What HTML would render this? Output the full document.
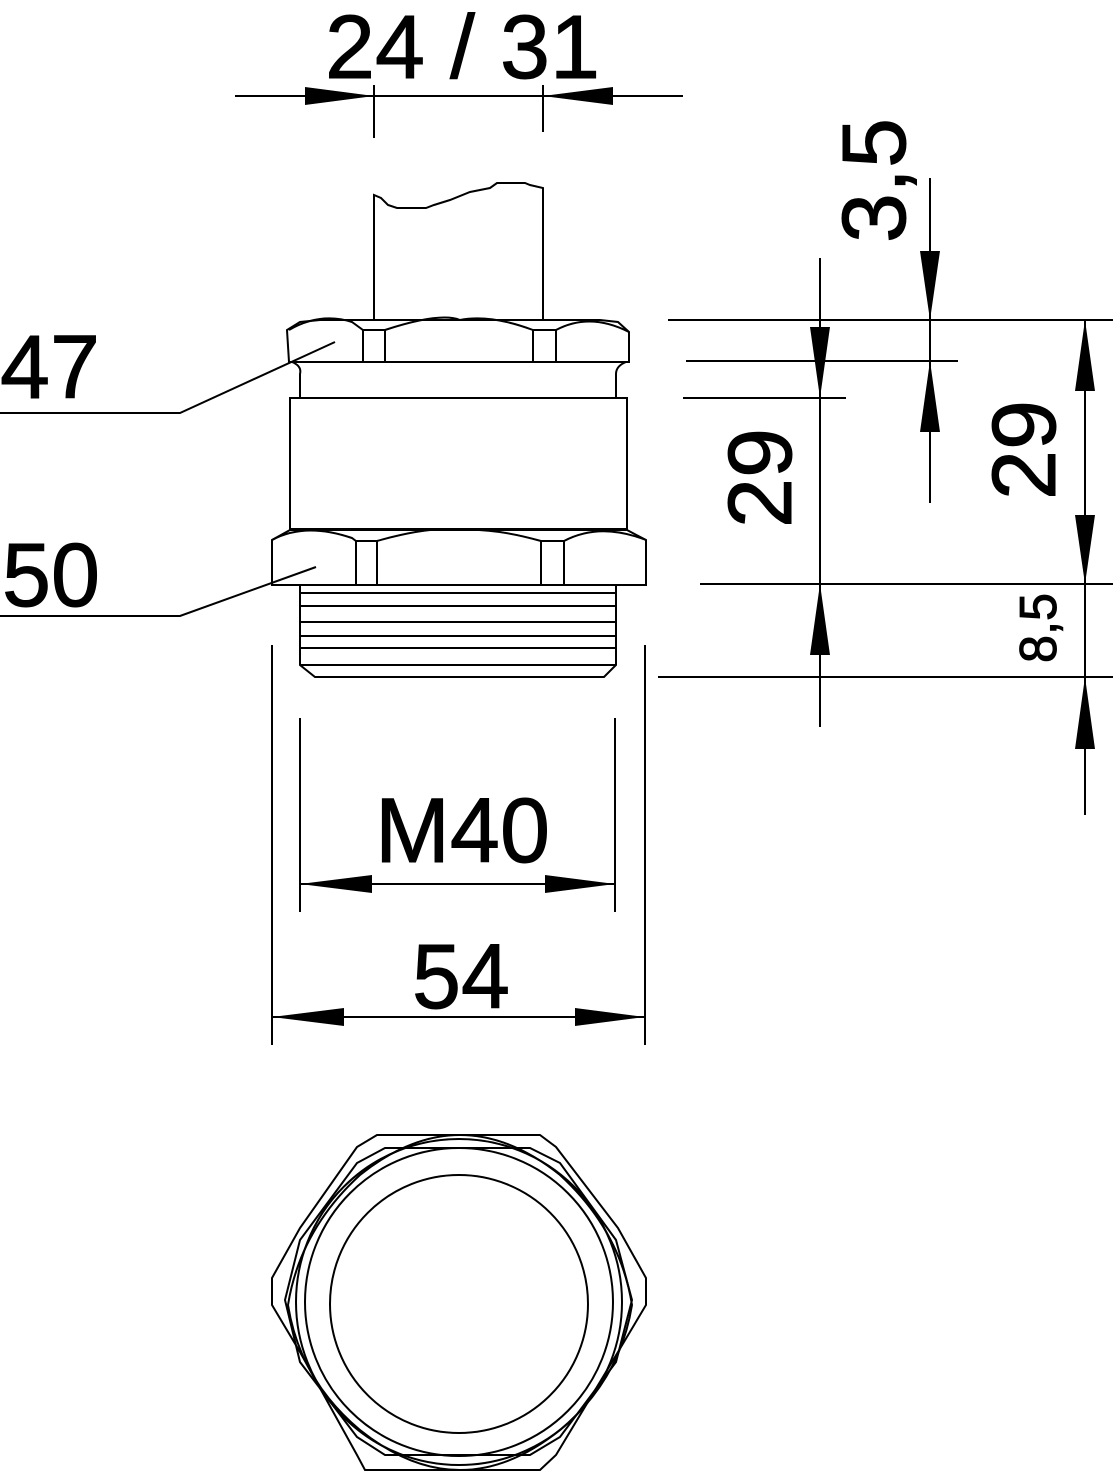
<!DOCTYPE html>
<html><head><meta charset="utf-8"><style>html,body{margin:0;padding:0;background:#fff}svg{display:block}</style></head>
<body>
<svg width="1114" height="1473" viewBox="0 0 1114 1473" xmlns="http://www.w3.org/2000/svg">
<g fill="none" stroke="#000" stroke-width="2">
<path d="M374,320 L374,195 L381,198 L388,205 L397,208 L426,208 L434,205 L450,200 L470,192 L490,188 L497,183 L525,183 L530,185 L543,188 L543,320"/>
<path d="M289,362 L287,330 L300,322 L320,320 L600,320 L618,322 L629,332 L629,362 Z"/>
<path d="M289,330 Q320,312 352,322 L363,330 L385,330 Q440,312 460,320 Q490,314 533,330 L556,330 Q590,312 629,332"/>
<line x1="363" y1="330" x2="363" y2="362"/><line x1="385" y1="330" x2="385" y2="362"/>
<line x1="533" y1="330" x2="533" y2="362"/><line x1="556" y1="330" x2="556" y2="362"/>
<path d="M292,362 Q302,366 300,374 L300,398 M626,362 Q616,366 616,374 L616,398"/>
<rect x="290" y="398" width="337" height="131"/>
<path d="M272,585 L272,540 L290,530 L627,530 L646,540 L646,585 Z"/>
<path d="M272,540 Q305,522 352,538 L356,541 L377,541 Q430,526 460,530 Q495,528 541,541 L564,541 Q600,522 646,540"/>
<line x1="356" y1="541" x2="356" y2="585"/><line x1="377" y1="541" x2="377" y2="585"/>
<line x1="541" y1="541" x2="541" y2="585"/><line x1="564" y1="541" x2="564" y2="585"/>
<path d="M300,585 L300,665 L315,677 L604,677 L616,665 L616,585"/>
<line x1="300" y1="593" x2="616" y2="593"/><line x1="300" y1="606" x2="616" y2="606"/>
<line x1="300" y1="622" x2="616" y2="622"/><line x1="300" y1="636" x2="616" y2="636"/>
<line x1="300" y1="648" x2="616" y2="648"/><line x1="300" y1="665" x2="616" y2="665"/>
<polyline points="0,413 180,413 335,342"/>
<polyline points="0,616 180,616 316,567"/>
<line x1="235" y1="96" x2="683" y2="96"/>
<line x1="374" y1="85" x2="374" y2="138"/><line x1="543" y1="85" x2="543" y2="132"/>
<line x1="668" y1="320" x2="1113" y2="320"/>
<line x1="686" y1="361" x2="958" y2="361"/>
<line x1="683" y1="398" x2="846" y2="398"/>
<line x1="700" y1="584" x2="1113" y2="584"/>
<line x1="658" y1="677" x2="1113" y2="677"/>
<line x1="820" y1="258" x2="820" y2="727"/>
<line x1="930" y1="178" x2="930" y2="503"/>
<line x1="1085" y1="320" x2="1085" y2="815"/>
<line x1="300" y1="718" x2="300" y2="912"/><line x1="615" y1="718" x2="615" y2="912"/>
<line x1="300" y1="884" x2="615" y2="884"/>
<line x1="272" y1="645" x2="272" y2="1045"/><line x1="645" y1="645" x2="645" y2="1045"/>
<line x1="272" y1="1017" x2="645" y2="1017"/>
<polygon points="272,1278 272,1305 300,1352 357,1455 365,1470 540,1470 556,1455 618,1352 646,1305 646,1278 618,1228 556,1147 540,1135 377,1135 357,1147 300,1228"/>
<polygon points="285,1300 300,1362 357,1437 385,1455 530,1455 560,1437 616,1362 632,1300 616,1240 560,1163 530,1148 385,1148 357,1163 300,1240"/>
<path d="M288,1305 Q300,1230 360,1175 Q410,1135 460,1135 Q510,1135 560,1175 Q620,1230 632,1305 Q620,1380 560,1430 Q510,1470 460,1470 Q410,1470 360,1430 Q300,1380 288,1305 Z"/>
<circle cx="459" cy="1302" r="163"/>
<circle cx="459" cy="1302" r="154"/>
<circle cx="459" cy="1304" r="129"/>
</g>
<g fill="#000">
<polygon points="374,96 305,87 305,105"/>
<polygon points="543,96 613,87 613,105"/>
<polygon points="820,398 810,327 830,327"/>
<polygon points="820,584 810,655 830,655"/>
<polygon points="930,320 920,251 940,251"/>
<polygon points="930,361 920,432 940,432"/>
<polygon points="1085,320 1075,391 1095,391"/>
<polygon points="1085,584 1075,515 1095,515"/>
<polygon points="1085,677 1075,749 1095,749"/>
<polygon points="300,884 372,875 372,893"/>
<polygon points="615,884 545,875 545,893"/>
<polygon points="272,1017 344,1008 344,1026"/>
<polygon points="645,1017 575,1008 575,1026"/>
</g>
<g font-family="Liberation Sans, sans-serif" fill="#000" stroke="#000" stroke-width="1">
<text x="325" y="78" font-size="90" textLength="275" lengthAdjust="spacingAndGlyphs">24 / 31</text>
<text x="0" y="398" font-size="90" textLength="100" lengthAdjust="spacingAndGlyphs">47</text>
<text x="2" y="606" font-size="90" textLength="98" lengthAdjust="spacingAndGlyphs">50</text>
<text x="375" y="862" font-size="92" textLength="175" lengthAdjust="spacingAndGlyphs">M40</text>
<text x="412" y="1008" font-size="92" textLength="98" lengthAdjust="spacingAndGlyphs">54</text>
<text transform="translate(791,528) rotate(-90)" font-size="90" textLength="100" lengthAdjust="spacingAndGlyphs">29</text>
<text transform="translate(1055,500) rotate(-90)" font-size="90" textLength="100" lengthAdjust="spacingAndGlyphs">29</text>
<text transform="translate(905,243) rotate(-90)" font-size="90" textLength="125" lengthAdjust="spacingAndGlyphs">3,5</text>
<text transform="translate(1056,663) rotate(-90)" font-size="52" textLength="70" lengthAdjust="spacingAndGlyphs">8,5</text>
</g>
</svg>
</body></html>
